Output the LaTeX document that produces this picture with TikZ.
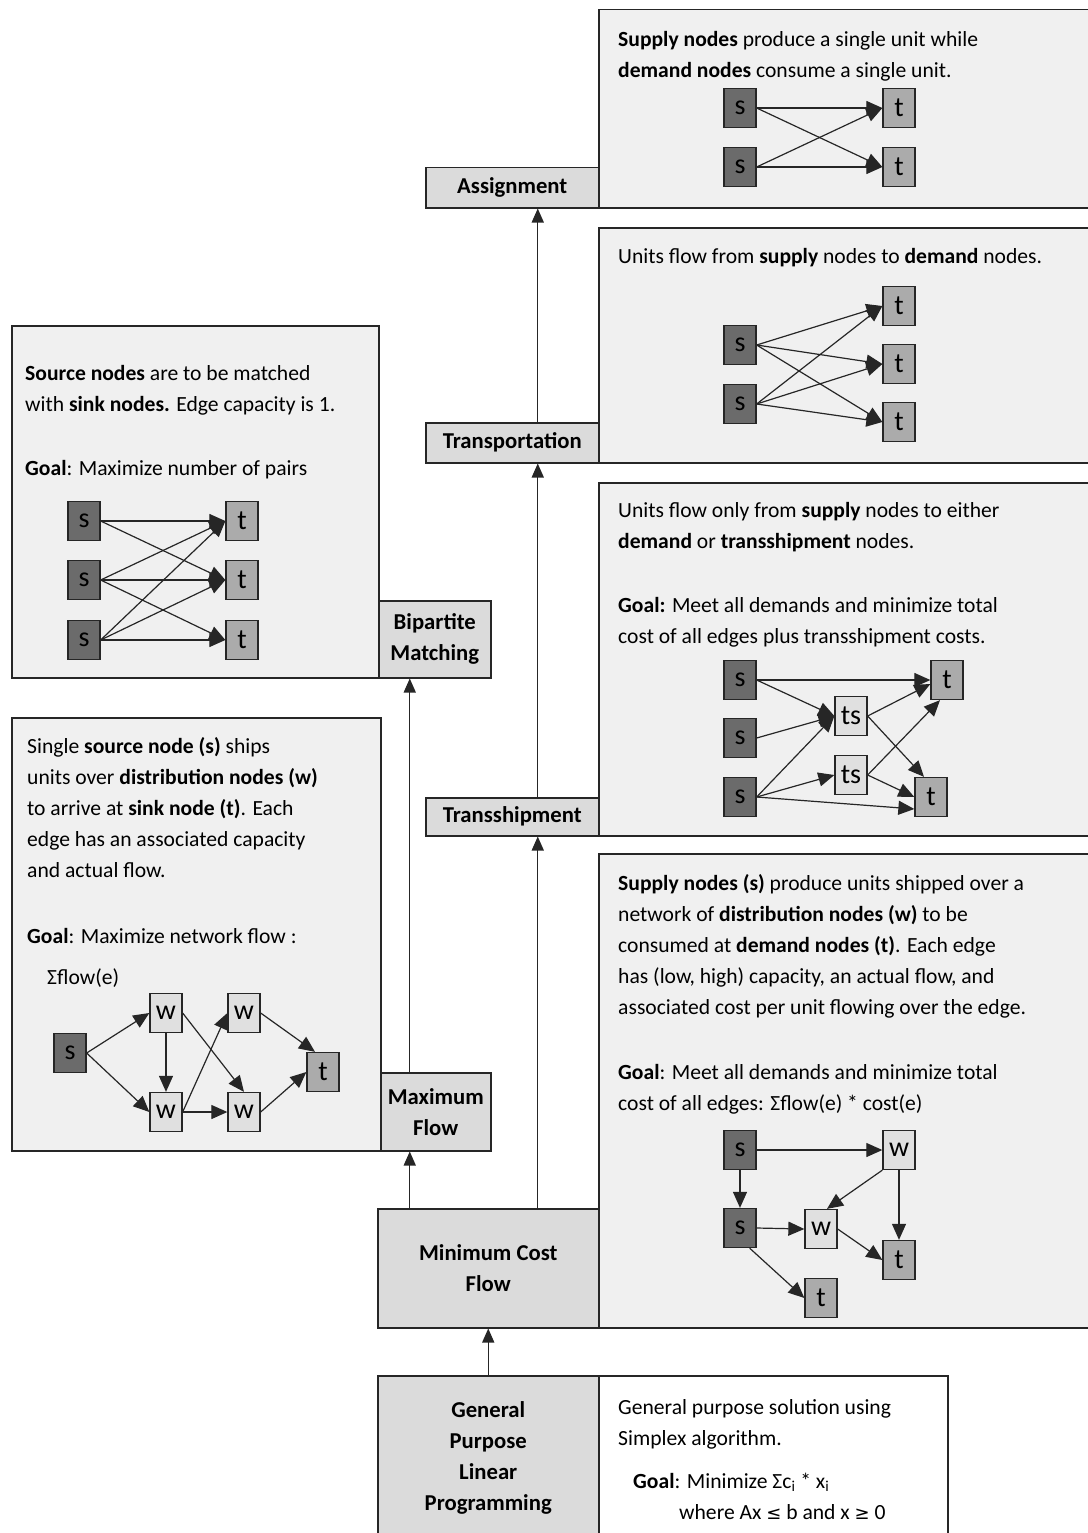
\documentclass[tikz,border=0pt]{standalone}
\usepackage{fontspec}
\setmainfont{Carlito}
\newfontfamily\symfont{DejaVu Sans}
\usetikzlibrary{arrows.meta}

\definecolor{descfill}{gray}{0.94}
\definecolor{tagfill}{gray}{0.86}
\definecolor{sfill}{gray}{0.42}
\definecolor{tfill}{gray}{0.67}
\definecolor{wfill}{gray}{0.88}
\definecolor{ink}{gray}{0.15}

\begin{document}
\begin{tikzpicture}[x=1pt,y=-1pt,
  frame/.style={draw=ink, line width=1.5pt},
  descbox/.style={frame, fill=descfill, anchor=north west, inner sep=0pt},
  tagbox/.style={frame, fill=tagfill, anchor=north west, inner sep=0pt,
    align=center, font=\bfseries\fontsize{22.7}{31}\selectfont},
  gnode/.style={draw=ink, line width=1.3pt, minimum width=32pt, minimum height=39pt,
    inner sep=0pt, font=\fontsize{28}{28}\selectfont},
  snode/.style={gnode, fill=sfill},
  tnode/.style={gnode, fill=tfill},
  wnode/.style={gnode, fill=wfill},
  edge/.style={draw=ink, line width=1.2pt, -{Triangle[length=16pt,width=14pt]}},
  conn/.style={draw=ink, line width=1.4pt, -{Triangle[length=14pt,width=12pt]}},
  body/.style={anchor=base west, align=left, inner sep=0pt, font=\fontsize{21.6}{31}\selectfont}
]
\useasboundingbox[fill=white] (0,0) rectangle (1087,1533);

% ---------- description panels ----------
\node[descbox, minimum width=497pt, minimum height=198pt] (asgD) at (598,9) {};
\node[descbox, minimum width=497pt, minimum height=235pt] (trnD) at (598,227) {};
\node[descbox, minimum width=497pt, minimum height=353pt] (tshD) at (598,482) {};
\node[descbox, minimum width=497pt, minimum height=474pt] (mcfD) at (598,853) {};
\node[descbox, fill=white, minimum width=349pt, minimum height=175pt] (lpD) at (598,1375) {};
\node[descbox, minimum width=367pt, minimum height=352pt] (bipD) at (11,325) {};
\node[descbox, minimum width=369pt, minimum height=433pt] (mfD) at (11,717) {};

% ---------- problem labels ----------
\node[tagbox, minimum width=173pt, minimum height=40pt] (asgL) at (425,167) {Assignment};
\node[tagbox, minimum width=173pt, minimum height=40pt] (trnL) at (425,422) {Transportation};
\node[tagbox, minimum width=173pt, minimum height=38pt] (tshL) at (425,797) {Transshipment};
\node[tagbox, minimum width=221pt, minimum height=119pt] (mcfL) at (377,1208) {Minimum Cost\\Flow};
\node[tagbox, minimum width=221pt, minimum height=164pt] (lpL) at (377,1375) {General\\Purpose\\Linear\\Programming};
\node[tagbox, minimum width=112pt, minimum height=77pt] (bipL) at (378,600) {Bipartite\\Matching};
\node[tagbox, minimum width=110pt, minimum height=78pt] (mfL) at (380,1072) {Maximum\\Flow};

% ---------- hierarchy arrows ----------
\draw[conn] (lpL.north) -- (mcfL.south);
\draw[conn] ([xshift=-26pt]mfL.south |- mcfL.north) -- ([xshift=-26pt]mfL.south);
\draw[conn] ([xshift=25.5pt]tshL.south |- mcfL.north) -- ([xshift=25.5pt]tshL.south);
\draw[conn] ([xshift=-26pt]mfL.north) -- ([xshift=-25pt]bipL.south);
\draw[conn] ([xshift=25.5pt]tshL.north) -- ([xshift=25.5pt]trnL.south);
\draw[conn] ([xshift=25.5pt]trnL.north) -- ([xshift=25.5pt]asgL.south);

% ---------- texts (anchored at the baseline of their last line) ----------
\node[body] (asgT) at (618,78) {\textbf{Supply nodes} produce a single unit while\\\textbf{demand nodes} consume a single unit.};
\node[body] (trnT) at (618,263) {Units flow from \textbf{supply} nodes to \textbf{demand} nodes.};
\node[body] (tshT) at (618,548) {Units flow only from \textbf{supply} nodes to either\\\textbf{demand} or \textbf{transshipment} nodes.};
\node[body] (tshG) at (618,643) {\textbf{Goal:} Meet all demands and minimize total\\cost of all edges plus transshipment costs.};
\node[body] (mcfT) at (618,1014) {\textbf{Supply nodes (s)} produce units shipped over a\\network of \textbf{distribution nodes (w)} to be\\consumed at \textbf{demand nodes (t)}. Each edge\\has (low, high) capacity, an actual flow, and\\associated cost per unit flowing over the edge.};
\node[body] (mcfG) at (618,1110) {\textbf{Goal}: Meet all demands and minimize total\\cost of all edges: Σflow(e) * cost(e)};
\node[body] (lpT) at (618,1445) {General purpose solution using\\Simplex algorithm.};
\node[body] (lpG) at (633,1488) {\textbf{Goal}: Minimize Σc\textsubscript{i} * x\textsubscript{i}};
\node[body] (lpW) at (679,1519) {where Ax {\symfont\fontsize{18}{18}\selectfont ≤} b and x {\symfont\fontsize{18}{18}\selectfont ≥} 0};
\node[body] (bipT) at (25,411) {\textbf{Source nodes} are to be matched\\with \textbf{sink nodes.} Edge capacity is 1.};
\node[body] (bipG) at (25,475) {\textbf{Goal}: Maximize number of pairs};
\node[body] (mfT) at (27,877) {Single \textbf{source node (s)} ships\\units over \textbf{distribution nodes (w)}\\to arrive at \textbf{sink node (t)}. Each\\edge has an associated capacity\\and actual flow.};
\node[body] (mfG) at (27,943) {\textbf{Goal}: Maximize network flow :};
\node[body] (mfS) at (47,984) {Σflow(e)};

% ---------- assignment graph ----------
\node[snode] (as1) at (740,108) {s};
\node[snode] (as2) at (740,167) {s};
\node[tnode] (at1) at (899,108) {t};
\node[tnode] (at2) at (899,167) {t};
\foreach \a in {as1,as2}
  \foreach \b in {at1,at2}
    \draw[edge] (\a.east) -- (\b.west);

% ---------- transportation graph ----------
\node[snode] (ps1) at (740,345) {s};
\node[snode] (ps2) at (740,404) {s};
\node[tnode] (pt1) at (899,306) {t};
\node[tnode] (pt2) at (899,364) {t};
\node[tnode] (pt3) at (899,422) {t};
\foreach \a in {ps1,ps2}
  \foreach \b in {pt1,pt2,pt3}
    \draw[edge] (\a.east) -- (\b.west);

% ---------- bipartite matching graph ----------
\node[snode] (bs1) at (84,521) {s};
\node[snode] (bs2) at (84,580) {s};
\node[snode] (bs3) at (84,640) {s};
\node[tnode] (bt1) at (242,521) {t};
\node[tnode] (bt2) at (242,580) {t};
\node[tnode] (bt3) at (242,640) {t};
\draw[edge] (bs1.east) -- (bt1.west);
\draw[edge] (bs1.east) -- (bt2.west);
\draw[edge] (bs2.east) -- (bt1.west);
\draw[edge] (bs2.east) -- (bt2.west);
\draw[edge] (bs2.east) -- (bt3.west);
\draw[edge] (bs3.east) -- (bt1.west);
\draw[edge] (bs3.east) -- (bt2.west);
\draw[edge] (bs3.east) -- (bt3.west);

% ---------- maximum flow graph ----------
\node[snode] (ms)  at (70,1053) {s};
\node[wnode] (mw1) at (166,1013) {w};
\node[wnode] (mw2) at (244,1013) {w};
\node[wnode] (mw3) at (166,1112) {w};
\node[wnode] (mw4) at (244,1112) {w};
\node[tnode] (mt)  at (323,1072) {t};
\draw[edge] (ms.east) -- (mw1.west);
\draw[edge] (ms.east) -- (mw3.west);
\draw[edge] (mw1.south) -- (mw3.north);
\draw[edge] (mw1.east) -- (mw4.north);
\draw[edge] (mw3.east) -- (mw2.west);
\draw[edge] (mw3.east) -- (mw4.west);
\draw[edge] (mw2.east) -- ([xshift=-8pt]mt.north);
\draw[edge] (mw4.east) -- (mt.west);

% ---------- transshipment graph ----------
\node[snode] (hs1) at (740,680) {s};
\node[snode] (hs2) at (740,738) {s};
\node[snode] (hs3) at (740,797) {s};
\node[wnode] (hx1) at (851,716) {ts};
\node[wnode] (hx2) at (851,775) {ts};
\node[tnode] (ht1) at (947,680) {t};
\node[tnode] (ht2) at (931,797) {t};
\draw[edge] (hs1.east) -- (ht1.west);
\draw[edge] (hs1.east) -- (hx1.west);
\draw[edge] (hs2.east) -- (hx1.west);
\draw[edge] (hs3.east) -- (hx1.west);
\draw[edge] (hs3.east) -- (hx2.west);
\draw[edge] (hs3.east) -- ([yshift=-12pt]ht2.west);
\draw[edge] (hx1.east) -- ([yshift=-4pt]ht1.west);
\draw[edge] (hx1.east) -- ([xshift=-7pt]ht2.north);
\draw[edge] (hx2.east) -- ([xshift=-7pt]ht1.south);
\draw[edge] (hx2.east) -- (ht2.west);

% ---------- minimum cost flow graph ----------
\node[snode] (cs1) at (740,1150) {s};
\node[wnode] (cw1) at (899,1150) {w};
\node[snode] (cs2) at (740,1228) {s};
\node[wnode] (cw2) at (821,1229) {w};
\node[tnode] (ct1) at (899,1260) {t};
\node[tnode] (ct2) at (821,1298) {t};
\draw[edge] (cs1.east) -- (cw1.west);
\draw[edge] (cs1.south) -- (cs2.north);
\draw[edge] (cw1.south west) -- ([xshift=6pt]cw2.north);
\draw[edge] (cw1.south) -- (ct1.north);
\draw[edge] (cs2.east) -- (cw2.west);
\draw[edge] (cw2.east) -- (ct1.west);
\draw[edge] ([xshift=-7pt]cs2.south east) -- (ct2.west);
\end{tikzpicture}
\end{document}
